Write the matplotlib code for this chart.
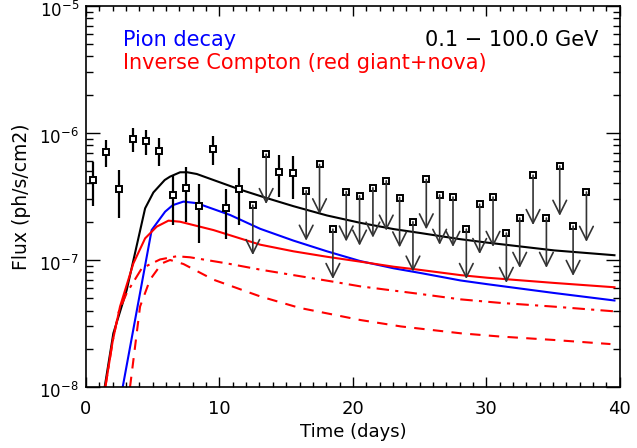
import numpy as np
import matplotlib
matplotlib.use("Agg")
import matplotlib.pyplot as plt
from matplotlib.ticker import MultipleLocator, LogLocator, NullFormatter
from matplotlib.transforms import ScaledTranslation

# daily bins with detections (flux and 1-sigma error)
det_t = [0.5, 1.5, 2.5, 3.5, 4.5, 5.5, 6.5, 7.5, 8.5, 9.5, 10.5, 11.5, 14.5, 15.5]
det_f = [4.25e-7, 7.1e-7, 3.65e-7, 9.0e-7, 8.65e-7, 7.25e-7, 3.25e-7, 3.7e-7,
         2.65e-7, 7.5e-7, 2.55e-7, 3.6e-7, 4.9e-7, 4.8e-7]
det_err = [1.6e-7, 1.7e-7, 1.5e-7, 1.9e-7, 1.9e-7, 1.8e-7, 1.35e-7, 1.7e-7,
           1.3e-7, 1.95e-7, 1.1e-7, 1.7e-7, 1.75e-7, 1.8e-7]

# upper limits
ul_t = [12.5, 13.5, 16.5, 17.5, 18.5, 19.5, 20.5, 21.5, 22.5, 23.5, 24.5, 25.5,
        26.5, 27.5, 28.5, 29.5, 30.5, 31.5, 32.5, 33.5, 34.5, 35.5, 36.5, 37.5]
ul_f = [2.7e-7, 6.8e-7, 3.5e-7, 5.65e-7, 1.75e-7, 3.45e-7, 3.2e-7, 3.7e-7,
        4.2e-7, 3.1e-7, 2.0e-7, 4.3e-7, 3.25e-7, 3.13e-7, 1.75e-7, 2.75e-7,
        3.13e-7, 1.63e-7, 2.14e-7, 4.65e-7, 2.14e-7, 5.5e-7, 1.85e-7, 3.43e-7]

# model curves
tot_t = [1.4, 2.05, 3.05, 4.43, 5.05, 5.9, 6.3, 7.05, 7.6, 8.3, 9.55, 11.55, 13.5,
         15.55, 18.06, 20.56, 23.06, 25.06, 28.0, 30.07, 35.07, 39.6]
tot_f = [1.0e-8, 2.65e-8, 5.8e-8, 2.55e-7, 3.4e-7, 4.26e-7, 4.53e-7, 4.9e-7, 4.9e-7,
         4.75e-7, 4.26e-7, 3.58e-7, 3.08e-7, 2.65e-7, 2.24e-7, 1.96e-7, 1.75e-7,
         1.63e-7, 1.46e-7, 1.37e-7, 1.19e-7, 1.09e-7]

pion_t = [2.75, 4.92, 5.3, 5.93, 6.5, 7.3, 8.3, 10.8, 13.05, 15.55, 18.06, 20.56,
          23.06, 25.06, 28.07, 30.07, 35.07, 39.6]
pion_f = [1.0e-8, 1.72e-7, 1.95e-7, 2.4e-7, 2.7e-7, 2.88e-7, 2.8e-7, 2.26e-7,
          1.76e-7, 1.42e-7, 1.17e-7, 9.8e-8, 8.6e-8, 7.9e-8, 6.9e-8, 6.45e-8,
          5.5e-8, 4.8e-8]

ic_t = [1.45, 2.0, 2.55, 3.55, 4.43, 5.3, 6.18, 7.05, 9.55, 13.05, 15.55, 18.06,
        20.56, 23.06, 25.06, 28.07, 30.07, 35.07, 39.6]
ic_f = [1.0e-8, 2.3e-8, 4.3e-8, 9.4e-8, 1.48e-7, 1.83e-7, 2.04e-7, 2.0e-7, 1.72e-7,
        1.32e-7, 1.17e-7, 1.06e-7, 9.7e-8, 8.85e-8, 8.35e-8, 7.6e-8, 7.25e-8,
        6.6e-8, 6.1e-8]

rg_t = [1.45, 2.0, 2.45, 3.05, 4.18, 5.55, 6.8, 7.8, 10.56, 13.05, 18.56, 20.56,
        25.06, 28.07, 31.0, 35.0, 39.5]
rg_f = [1.0e-8, 2.3e-8, 3.9e-8, 5.5e-8, 8.6e-8, 1.01e-7, 1.07e-7, 1.05e-7, 9.4e-8,
        8.4e-8, 6.74e-8, 6.2e-8, 5.4e-8, 4.9e-8, 4.6e-8, 4.3e-8, 3.95e-8]

nova_t = [3.3, 4.05, 4.8, 5.68, 6.3, 7.3, 9.55, 13.05, 16.0, 20.56, 23.6, 28.07,
          31.0, 35.0, 39.3]
nova_f = [1.0e-8, 4.3e-8, 7.0e-8, 9.4e-8, 1.0e-7, 9.3e-8, 7.0e-8, 5.17e-8, 4.2e-8,
          3.37e-8, 3.0e-8, 2.65e-8, 2.5e-8, 2.35e-8, 2.18e-8]

plt.rcParams['font.family'] = ['DejaVu Sans']
fig = plt.figure(figsize=(6.37, 4.48), dpi=100)
ax = fig.add_axes([0.135, 0.136, 0.838, 0.851])

ax.plot(tot_t, tot_f, color='black', lw=1.5)
ax.plot(pion_t, pion_f, color='#0000ff', lw=1.5)
ax.plot(ic_t, ic_f, color='#ff0000', lw=1.5)
ax.plot(rg_t, rg_f, color='#ff0000', lw=1.5, ls=(0, (6, 3, 1.5, 3)))
ax.plot(nova_t, nova_f, color='#ff0000', lw=1.5, ls=(0, (5, 4)))

ax.errorbar(det_t, det_f, yerr=det_err, fmt='none', ecolor='black', elinewidth=1.6, capsize=0)
ax.plot(det_t, det_f, 's', ms=4.5, mfc='white', mec='black', mew=1.4)

for t, f in zip(ul_t, ul_f):
    ax.annotate('', xy=(t, f / 2.47), xytext=(t, f),
                arrowprops=dict(arrowstyle='->, head_length=0.7, head_width=0.35',
                                color='#333333', lw=1.2, shrinkA=0, shrinkB=0,
                                mutation_scale=14))
ax.plot(ul_t, ul_f, 's', ms=4.5, mfc='white', mec='black', mew=1.4)

ax.set_yscale('log')
ax.set_xlim(0, 40)
ax.set_ylim(1e-8, 1e-5)
ax.xaxis.set_major_locator(MultipleLocator(10))
ax.xaxis.set_minor_locator(MultipleLocator(1))
ax.yaxis.set_major_locator(LogLocator(base=10))
ax.yaxis.set_minor_locator(LogLocator(base=10, subs=np.arange(2, 10)))
ax.yaxis.set_minor_formatter(NullFormatter())
ax.tick_params(which='both', direction='in', top=True, right=True, width=1)
ax.tick_params(axis='x', which='major', length=7, pad=9, labelsize=13)
ax.tick_params(axis='x', which='minor', length=3.5)
ax.tick_params(axis='y', which='major', length=10, pad=5, labelsize=12)
ax.tick_params(axis='y', which='minor', length=5)
for s in ax.spines.values():
    s.set_linewidth(1.2)

ax.set_xlabel('Time (days)', fontsize=13, labelpad=4)
ax.set_ylabel('Flux (ph/s/cm2)', fontsize=13.5, labelpad=6)

ax.text(0.069, 0.911, 'Pion decay', color='#0000ff', fontsize=15,
        transform=ax.transAxes, va='center')
ax.text(0.069, 0.850, 'Inverse Compton (red giant+nova)', color='#ff0000', fontsize=15,
        transform=ax.transAxes, va='center')
ax.text(0.959, 0.911, '0.1 \u2212 100.0 GeV', color='black', fontsize=15,
        transform=ax.transAxes, va='center', ha='right')

# push y tick labels down a little so the top one stays inside the figure
fig.canvas.draw()
shift = ScaledTranslation(0, -3 / 100, fig.dpi_scale_trans)
for tick in ax.yaxis.get_major_ticks():
    tick.label1.set_transform(tick.label1.get_transform() + shift)

fig.savefig('out.png', dpi=100)
